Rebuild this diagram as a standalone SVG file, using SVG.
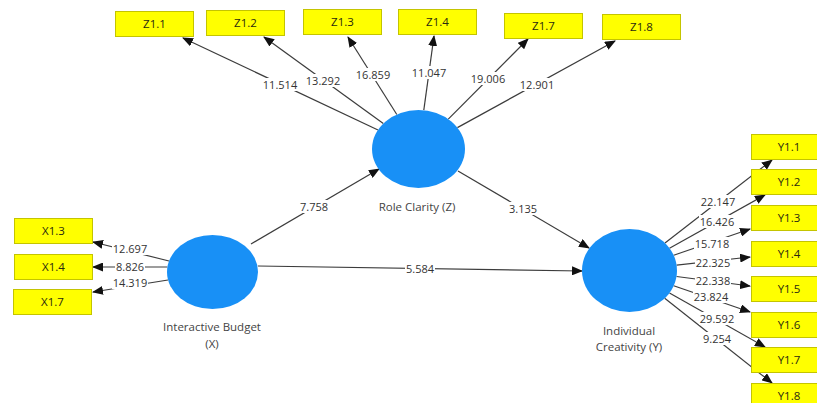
<svg xmlns="http://www.w3.org/2000/svg" width="817" height="403" viewBox="0 0 817 403">
  <defs>
    <marker id="arrow" markerUnits="userSpaceOnUse" markerWidth="11" markerHeight="9" refX="10" refY="4.5" orient="auto">
      <path d="M0,0 L11,4.5 L0,9 Z" fill="#111"/>
    </marker>
    <style>
      .box { fill: #ffff00; stroke: #c4c400; stroke-width: 1; }
      .boxtxt { font-family: "Open Sans", "Liberation Sans", sans-serif; font-size: 11.5px; fill: #2a2a10; text-anchor: middle; }
      .lv { fill: #1890f6; }
      .lvtxt { font-family: "Open Sans", "Liberation Sans", sans-serif; font-size: 11.5px; fill: #444; text-anchor: middle; }
      .edge { stroke: #3c3c3c; stroke-width: 1.2; fill: none; marker-end: url(#arrow); }
      .bg { fill: #fff; }
      .val { font-family: "Open Sans", "Liberation Sans", sans-serif; font-size: 11px; fill: #333; text-anchor: middle; }
    </style>
  </defs>
  <rect width="817" height="403" fill="#fff"/>

  <!-- connectors: outer loadings and inner paths with their t-values -->
  <g id="connectors">
    <!-- Role Clarity (Z) indicators -->
    <line class="edge" x1="378" y1="130" x2="183" y2="38"/>
    <line class="edge" x1="383.3" y1="123.5" x2="264" y2="37"/>
    <line class="edge" x1="396.8" y1="114.5" x2="348" y2="37"/>
    <line class="edge" x1="423.8" y1="110.2" x2="434" y2="36"/>
    <line class="edge" x1="448.3" y1="119.1" x2="528" y2="39"/>
    <line class="edge" x1="457.4" y1="127.6" x2="615" y2="41"/>
    <!-- Interactive Budget (X) indicators -->
    <line class="edge" x1="169" y1="261" x2="93" y2="242"/>
    <line class="edge" x1="167.4" y1="267" x2="93" y2="267"/>
    <line class="edge" x1="168" y1="280" x2="93" y2="292"/>
    <!-- Individual Creativity (Y) indicators -->
    <line class="edge" x1="665" y1="243" x2="772" y2="160"/>
    <line class="edge" x1="669.5" y1="248.2" x2="765" y2="195"/>
    <line class="edge" x1="673.7" y1="255.3" x2="750" y2="229"/>
    <line class="edge" x1="676.6" y1="265.2" x2="750" y2="257"/>
    <line class="edge" x1="676.5" y1="276.5" x2="750" y2="286"/>
    <line class="edge" x1="673.7" y1="285.7" x2="750" y2="312"/>
    <line class="edge" x1="669.5" y1="293.1" x2="765" y2="347"/>
    <line class="edge" x1="664.7" y1="298.3" x2="772" y2="383"/>
    <!-- structural paths -->
    <line class="edge" x1="251" y1="244" x2="379" y2="169"/>
    <line class="edge" x1="458" y1="171" x2="589" y2="248"/>
    <line class="edge" x1="258" y1="266" x2="582" y2="271"/>

    <!-- value labels on white plates -->
    <g id="z-values">
      <rect class="bg" x="262" y="78" width="36" height="13"/><text class="val" x="280" y="89">11.514</text>
      <rect class="bg" x="305" y="74" width="36" height="13"/><text class="val" x="323" y="85">13.292</text>
      <rect class="bg" x="355" y="68" width="36" height="13"/><text class="val" x="373" y="79">16.859</text>
      <rect class="bg" x="411" y="66" width="36" height="13"/><text class="val" x="429" y="77">11.047</text>
      <rect class="bg" x="470" y="72" width="36" height="13"/><text class="val" x="488" y="83">19.006</text>
      <rect class="bg" x="519" y="78" width="36" height="13"/><text class="val" x="537" y="89">12.901</text>
    </g>
    <g id="x-values">
      <rect class="bg" x="112" y="242" width="36" height="13"/><text class="val" x="130" y="253">12.697</text>
      <rect class="bg" x="115" y="260" width="30" height="13"/><text class="val" x="130" y="271">8.826</text>
      <rect class="bg" x="112" y="276" width="36" height="13"/><text class="val" x="130" y="287">14.319</text>
    </g>
    <g id="y-values">
      <rect class="bg" x="700" y="195" width="36" height="13"/><text class="val" x="718" y="206">22.147</text>
      <rect class="bg" x="699" y="215" width="36" height="13"/><text class="val" x="717" y="226">16.426</text>
      <rect class="bg" x="694" y="237" width="36" height="13"/><text class="val" x="712" y="248">15.718</text>
      <rect class="bg" x="695" y="256" width="36" height="13"/><text class="val" x="713" y="267">22.325</text>
      <rect class="bg" x="695" y="274" width="36" height="13"/><text class="val" x="713" y="285">22.338</text>
      <rect class="bg" x="693" y="290" width="36" height="13"/><text class="val" x="711" y="301">23.824</text>
      <rect class="bg" x="699" y="312" width="36" height="13"/><text class="val" x="717" y="323">29.592</text>
      <rect class="bg" x="702" y="332" width="30" height="13"/><text class="val" x="717" y="343">9.254</text>
    </g>
    <g id="path-values">
      <rect class="bg" x="299" y="200" width="30" height="13"/><text class="val" x="314" y="211">7.758</text>
      <rect class="bg" x="508" y="202" width="30" height="13"/><text class="val" x="523" y="213">3.135</text>
      <rect class="bg" x="405" y="262" width="30" height="13"/><text class="val" x="420" y="273">5.584</text>
    </g>
  </g>

  <!-- latent variables -->
  <g id="role-clarity">
    <ellipse class="lv" cx="418.5" cy="149" rx="46.5" ry="39"/>
    <text class="lvtxt" x="417" y="211">Role Clarity (Z)</text>
  </g>
  <g id="interactive-budget">
    <ellipse class="lv" cx="212.5" cy="272" rx="45.5" ry="37"/>
    <text class="lvtxt" x="212" y="331">Interactive Budget</text>
    <text class="lvtxt" x="212" y="348">(X)</text>
  </g>
  <g id="individual-creativity">
    <ellipse class="lv" cx="629.5" cy="270.5" rx="47.5" ry="41.5"/>
    <text class="lvtxt" x="629" y="335">Individual</text>
    <text class="lvtxt" x="629" y="351">Creativity (Y)</text>
  </g>

  <!-- indicators of Z -->
  <g id="z1-1"><rect class="box" x="115.5" y="11.5" width="78" height="25"/><text class="boxtxt" x="154.5" y="28">Z1.1</text></g>
  <g id="z1-2"><rect class="box" x="206.5" y="10.5" width="78" height="25"/><text class="boxtxt" x="245.5" y="27">Z1.2</text></g>
  <g id="z1-3"><rect class="box" x="303.5" y="9.5" width="78" height="25"/><text class="boxtxt" x="342.5" y="26">Z1.3</text></g>
  <g id="z1-4"><rect class="box" x="398.5" y="9.5" width="78" height="25"/><text class="boxtxt" x="437.5" y="26">Z1.4</text></g>
  <g id="z1-7"><rect class="box" x="504.5" y="13.5" width="78" height="25"/><text class="boxtxt" x="543.5" y="30">Z1.7</text></g>
  <g id="z1-8"><rect class="box" x="602.5" y="14.5" width="78" height="25"/><text class="boxtxt" x="641.5" y="31">Z1.8</text></g>

  <!-- indicators of X -->
  <g id="x1-3"><rect class="box" x="14.5" y="218.5" width="78" height="25"/><text class="boxtxt" x="53.5" y="235">X1.3</text></g>
  <g id="x1-4"><rect class="box" x="14.5" y="254.5" width="78" height="25"/><text class="boxtxt" x="53.5" y="271">X1.4</text></g>
  <g id="x1-7"><rect class="box" x="13.5" y="289.5" width="78" height="25"/><text class="boxtxt" x="52.5" y="306">X1.7</text></g>

  <!-- indicators of Y -->
  <g id="y1-1"><rect class="box" x="751.5" y="134.5" width="78" height="25"/><text class="boxtxt" x="789" y="151">Y1.1</text></g>
  <g id="y1-2"><rect class="box" x="751.5" y="169.5" width="78" height="25"/><text class="boxtxt" x="789" y="186">Y1.2</text></g>
  <g id="y1-3"><rect class="box" x="751.5" y="205.5" width="78" height="25"/><text class="boxtxt" x="789" y="222">Y1.3</text></g>
  <g id="y1-4"><rect class="box" x="751.5" y="241.5" width="78" height="25"/><text class="boxtxt" x="789" y="258">Y1.4</text></g>
  <g id="y1-5"><rect class="box" x="751.5" y="276.5" width="78" height="25"/><text class="boxtxt" x="789" y="293">Y1.5</text></g>
  <g id="y1-6"><rect class="box" x="751.5" y="312.5" width="78" height="25"/><text class="boxtxt" x="789" y="329">Y1.6</text></g>
  <g id="y1-7"><rect class="box" x="751.5" y="347.5" width="78" height="25"/><text class="boxtxt" x="789" y="364">Y1.7</text></g>
  <g id="y1-8"><rect class="box" x="751.5" y="383.5" width="78" height="25"/><text class="boxtxt" x="789" y="400">Y1.8</text></g>
</svg>
